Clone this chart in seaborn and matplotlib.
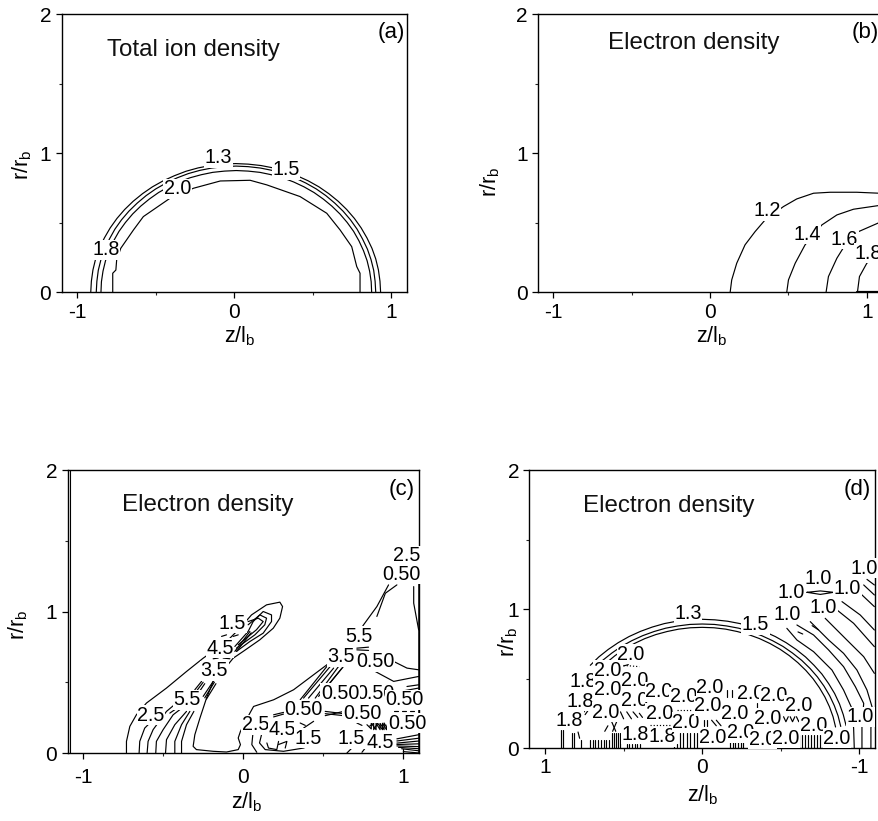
import matplotlib
matplotlib.use("Agg")
import matplotlib.pyplot as plt
import seaborn as sns
from matplotlib.ticker import MultipleLocator

# ---- panel (a), total ion density: z, r
a_13 = [(-.915,0),(-.911,.080),(-.901,.161),(-.884,.240),(-.860,.316),(-.828,.391),(-.791,.463),(-.748,.531),(-.699,.595),(-.645,.654),(-.585,.709),(-.522,.758),
        (-.454,.801),(-.382,.838),(-.308,.870),(-.231,.894),(-.153,.911),(-.072,.921),(.008,.925),(.088,.921),(.169,.911),(.247,.894),(.324,.870),(.398,.838),
        (.470,.801),(.538,.758),(.601,.709),(.661,.654),(.715,.595),(.764,.531),(.807,.463),(.844,.391),(.876,.316),(.900,.240),(.917,.161),(.927,.080),(.931,0)]
a_15 = [(-.880,0),(-.876,.079),(-.867,.158),(-.850,.235),(-.827,.310),(-.796,.383),(-.761,.454),(-.719,.521),(-.672,.583),(-.619,.641),(-.562,.695),(-.501,.743),
        (-.435,.785),(-.366,.822),(-.294,.853),(-.221,.876),(-.145,.893),(-.067,.903),(.010,.907),(.087,.903),(.165,.893),(.241,.876),(.314,.853),(.386,.822),
        (.455,.785),(.521,.743),(.582,.695),(.639,.641),(.692,.583),(.739,.521),(.781,.454),(.816,.383),(.847,.310),(.870,.235),(.887,.158),(.896,.079),(.900,0)]
a_18 = [(-.850,0),(-.847,.076),(-.837,.152),(-.821,.227),(-.798,.299),(-.769,.370),(-.735,.438),(-.694,.502),(-.648,.563),(-.597,.619),(-.542,.670),(-.483,.717),
        (-.419,.758),(-.353,.793),(-.283,.823),(-.211,.845),(-.138,.862),(-.063,.871),(.012,.875),(.087,.871),(.162,.862),(.235,.845),(.307,.823),(.377,.793),
        (.443,.758),(.507,.717),(.566,.670),(.621,.619),(.672,.563),(.718,.502),(.759,.438),(.793,.370),(.822,.299),(.845,.227),(.861,.152),(.871,.076),(.874,0)]
a_20 = [(-.775,0),(-.775,.137),(-.755,.160),(-.750,.232),(-.724,.316),(-.643,.448),(-.58,.544),(-.41,.676),(-.26,.748),(-.09,.80),
        (.10,.805),(.206,.772),(.418,.688),(.588,.568),(.673,.448),(.747,.328),(.779,.185),(.80,.137),(.80,0)]
a_labels = ["1.3", "1.5", "2.0", "1.8"]
a_label_z = [-.10, .329, -.361, -.817]
a_label_r = [.968, .879, .743, .304]

# ---- panel (b)
b_12 = [(.128,0),(.138,.089),(.17,.209),(.223,.341),(.287,.436),(.351,.52),(.468,.616),(.553,.671),(.66,.712),(.766,.719),(.936,.719),(1.079,.712),(1.12,.71)]
b_14 = [(.489,0),(.50,.089),(.543,.209),(.606,.341),(.713,.484),(.809,.556),(.915,.597),(1.079,.624),(1.12,.628)]
b_16 = [(.74,0),(.755,.113),(.809,.245),(.862,.341),(.947,.436),(1.079,.501),(1.12,.515)]
b_18 = [(.94,0),(.953,.113),(1.0,.209),(1.08,.28),(1.12,.30)]
b_axis_run = [(.94,0),(1.12,0)]
b_labels = ["1.2", "1.4", "1.6", "1.8"]
b_label_z = [.362, .617, .857, 1.01]
b_label_r = [.587, .417, .381, .28]

# ---- panel (c)
c_outer = [(-.729,0),(-.729,.082),(-.708,.188),(-.667,.27),(-.604,.353),(-.479,.459),(-.354,.576),(-.25,.67),(-.104,.788),(-.02,.882),(.052,.976),
           (.146,1.047),(.229,1.066),(.246,1.035),(.229,.953),(.188,.882),(.104,.80),(0,.718),(-.0625,.67),(-.146,.553),(-.1875,.506),(-.229,.388),
           (-.27,.247),(-.302,.129),(-.3125,.047),(-.292,.024),(-.1875,.012),(-.104,.007),(-.031,.024),(-.017,.059),(-.031,.106),(-.017,.153),
           (.042,.282),(.065,.329),(.19,.376),(.315,.447),(.481,.588),(.648,.729),(.752,.906),(.835,1.035),(.908,1.188)]
c_left_bundle = [
    [(-.65,0),(-.646,.082),(-.615,.176),(-.552,.247)],
    [(-.6,0),(-.594,.082),(-.5625,.165),(-.479,.294),(-.417,.353)],
    [(-.546,0),(-.542,.082),(-.5,.165),(-.4375,.27),(-.396,.306)],
    [(-.485,0),(-.479,.094),(-.427,.2),(-.354,.294)],
    [(-.427,0),(-.427,.082),(-.385,.2),(-.333,.294)],
    [(-.385,0),(-.385,.082),(-.354,.2),(-.308,.294)],
]
c_tip = [
    [(-.052,.753),(.031,.859),(.0625,.929),(.125,1.0),(.177,.976),(.177,.929),(.125,.847),(.042,.788),(-.042,.718)],
    [(.031,.906),(.104,.976),(.146,.953),(.135,.906),(.073,.835),(-.042,.741)],
    [(.031,.929),(.094,.953),(.125,.929),(.083,.871),(-.031,.765)],
    [(-.052,.718),(.042,.859)],
    [(-.04,.72),(.05,.85)],
]
c_short = [
    [(-.135,.824),(-.104,.835)], [(-.0625,.824),(-.031,.835)], [(-.1875,.666),(-.156,.671)], [(-.125,.671),(-.083,.666)],
    [(-.302,.447),(-.26,.506)], [(-.29,.44),(-.25,.5)], [(-.27,.44),(-.24,.49)],
    [(-.25,.4),(-.1875,.506)], [(-.24,.39),(-.18,.5)], [(-.23,.38),(-.17,.49)], [(-.458,.282),(-.427,.306)],
    [(.356,.376),(.523,.612)], [(.377,.388),(.544,.612)], [(.408,.388),(.565,.6)], [(.45,.388),(.596,.612)], [(.471,.4),(.627,.612)], [(.492,.424),(.617,.6)],
    [(.71,.741),(.783,.748)], [(.71,.729),(.783,.725)],
    [(.94,.647),(1.023,.6),(1.096,.588)], [(.825,.576),(.94,.506),(1.096,.541)], [(1.023,.47),(1.096,.482)], [(.981,.435),(1.096,.459)],
    [(.5125,.294),(.627,.278)], [(.5125,.278),(.627,.264)], [(.5125,.264),(.627,.294)],
    [(.356,.212),(.388,.195)], [(.44,.224),(.377,.176)], [(.71,.212),(.742,.195)],
    [(.648,0),(.679,.035)], [(.742,.005),(.7625,.035)], [(.19,.27),(.252,.287)], [(.19,.255),(.252,.275)],
    [(.835,.965),(.888,1.129),(.96,1.188)], [(1.096,.87),(1.065,1.059),(1.065,1.176)],
    [(.06,.129),(.054,.059),(.085,.005)], [(.117,.141),(.102,.071),(.1375,.024),(.252,.012),(.377,.035),(.429,.059)],
    [(.148,.071),(.158,.035),(.21,.024),(.221,.082)], [(.221,.06),(.273,.082),(.2625,.035)],
    [(.94,.294),(.97,.294)], [(.99,.294),(1.02,.294)], [(1.04,.294),(1.07,.294)],
]
c_zigzag = [(.773,.2),(.80,.17),(.80,.21),(.83,.165),(.83,.21),(.855,.165),(.855,.21),(.88,.165),(.88,.212),(.905,.165),(.905,.21)]
c_zigzag2 = [(.79,.19),(.815,.21),(.815,.165),(.84,.21),(.87,.165),(.87,.21),(.895,.165),(.9,.2)]
c_wedge = [
    [(.96,.10),(1.1,.13)], [(.96,.085),(1.1,.105)], [(.96,.07),(1.1,.085)], [(.96,.06),(1.1,.065)], [(.96,.05),(1.1,.045)],
    [(.97,.04),(1.1,.03)], [(.99,.03),(1.1,.015)], [(1.0,.01),(1.1,.0)], [(1.0,.0),(1.0,.03)],
]
c_right_edge = [(1.098,0),(1.098,.13),(1.098,.6),(1.098,1.21)]
c_labels = ["1.5","4.5","3.5","5.5","2.5","2.5","4.5","1.5","0.50","0.50","0.50","0.50","0.50","0.50","0.50","3.5","5.5","1.5","4.5","0.50","2.5"]
c_label_z = [-.067,-.144,-.181,-.352,-.575,.075,.242,.408,.377,.825,.825,.606,.742,1.008,1.023,.6125,.725,.675,.856,.9875,1.023]
c_label_r = [.918,.741,.581,.376,.266,.2,.165,.106,.306,.647,.424,.424,.282,.376,.212,.682,.824,.101,.075,1.264,1.394]

# ---- panel (d), z axis runs from +1 on the left to -1 on the right
d_arc_o = [(.712,.595),(.658,.655),(.598,.709),(.534,.758),(.465,.802),(.393,.839),(.318,.870),(.241,.895),(.162,.912),(.081,.922),(0,.926),(-.081,.922),(-.162,.912),
           (-.241,.895),(-.318,.870),(-.393,.839),(-.465,.802),(-.534,.758),(-.598,.709),(-.658,.655),(-.712,.595),(-.762,.532),(-.805,.463),(-.843,.392),(-.874,.317),(-.898,.240),(-.916,.161)]
d_arc_m = [(.686,.573),(.633,.631),(.575,.683),(.514,.731),(.448,.772),(.379,.808),(.306,.838),(.232,.862),(.156,.878),(.078,.889),(0,.892),(-.078,.889),(-.156,.878),
           (-.232,.862),(-.306,.838),(-.379,.808),(-.448,.772),(-.514,.731),(-.575,.683),(-.633,.631),(-.686,.573),(-.733,.512),(-.775,.446),(-.811,.377),(-.841,.305),(-.865,.231),(-.882,.155)]
d_arc_i = [(.66,.558),(.609,.614),(.554,.665),(.495,.711),(.431,.752),(.365,.787),(.295,.816),(.223,.838),(.150,.855),(.075,.865),(0,.868),(-.075,.865),(-.150,.855),
           (-.223,.838),(-.295,.816),(-.365,.787),(-.431,.752),(-.495,.711),(-.554,.665),(-.609,.614),(-.660,.558),(-.706,.498),(-.746,.434),(-.781,.367),(-.810,.297),(-.833,.225),(-.849,.151)]
d_fan = [
    [(-.539,.861),(-.603,.777),(-.709,.693),(-.826,.561),(-.9,.417),(-.953,.285),(-.964,.141),(-.968,0)],
    [(-.603,.885),(-.709,.813),(-.805,.705),(-.9,.585),(-.975,.441),(-1.028,.321),(-1.017,.153),(-1.017,0)],
    [(-.688,.909),(-.805,.777),(-.9,.681),(-.985,.561),(-1.049,.417),(-1.081,.297),(-1.074,.141),(-1.074,0)],
    [(-.783,.933),(-.921,.777),(-1.028,.657),(-1.096,.537)],
    [(-.858,.993),(-.964,.897),(-1.096,.729)],
    [(-.890,1.053),(-1.006,.957),(-1.096,.849)],
    [(-1.006,1.113),(-1.096,1.017)],
    [(-1.028,1.173),(-1.096,1.101)],
    [(-1.049,1.213),(-1.096,1.173)],
]
d_lens = [(-.667,1.12),(-.752,1.13),(-.837,1.12),(-.752,1.105),(-.667,1.12)]
d_stub_z = [.9,.883,.83,.815,.773,.713,.697,.679,.662,.645,.628,.611,.594,.575,.56,.548,.533,.523,
            .48,.463,.446,.429,.412,.395,.178,.161,.14,.119,.098,.077,.055,.034,
            -.178,-.195,-.212,-.23,-.246,-.263,-.614,-.633,-.652,-.671,-.69,-.709,-.728,-.747]
d_stub_top = [.13,.13,.105,.105,.06,.06,.06,.06,.06,.06,.06,.06,.06,.105,.105,.105,.105,.105,
              .03,.03,.03,.03,.03,.03,.03,.03,.105,.105,.105,.105,.105,.105,
              .058,.058,.058,.058,.058,.058,.094,.094,.094,.094,.094,.094,.094,.094]
d_short = [
    [(-.157,.417),(-.157,.369)], [(-.193,.417),(-.193,.369)], [(-.352,.321),(-.352,.273)],
    [(-.518,.225),(-.533,.189),(-.548,.225)], [(-.56,.225),(-.575,.189),(-.59,.225)], [(-.6,.225),(-.615,.189),(-.63,.225)],
    [(-.01,.2),(-.01,.16)], [(-.03,.2),(-.03,.16)], [(-.06,.2),(-.09,.16)], [(-.09,.2),(-.12,.16)],
    [(.52,.26),(.5,.21)], [(.48,.26),(.45,.21)], [(.44,.26),(.41,.22)], [(.40,.25),(.38,.22)],
    [(.765,.24),(.74,.28)], [(.745,.24),(.72,.28)], [(.58,.2),(.55,.12)], [(.54,.2),(.57,.12)],
    [(.79,.115),(.78,.07)], [(.62,.12),(.60,.16)],
    [(.5,.59),(.47,.60)], [(-.70,.88),(-.74,.85)], [(-.61,.835),(-.64,.82)],
]
d_dotted = [
    [(.67,.37),(.54,.37)], [(.33,.165),(.2,.165)], [(.16,.273),(.07,.273)], [(.52,.595),(.45,.59),(.40,.585)], [(.29,.37),(.22,.37)],
]
d_labels = ["1.3","1.5","1.0","1.0","1.0","1.0","1.0","1.0","1.0","2.0","1.8","1.8","1.8","1.8","1.8",
            "2.0","2.0","2.0","2.0","2.0","2.0","2.0","2.0","2.0","2.0","2.0","2.0","2.0","2.0","2.0","2.0","2.0","2.0","2.0","2.0","2.0","2.0"]
d_label_z = [.091,-.338,-1.032,-.737,-.926,-.565,-.773,-.539,-1.006,.452,.756,.777,.845,.427,.257,
             .603,.603,.427,.427,.611,.274,.119,.272,.102,-.051,-.036,-.068,-.306,-.21,-.454,-.416,-.614,-.709,-.242,-.384,-.529,-.858]
d_label_r = [.969,.885,1.293,1.221,1.149,1.12,1.012,.964,.225,.676,.477,.338,.201,.098,.082,
             .561,.424,.484,.341,.257,.405,.369,.249,.185,.436,.305,.077,.393,.249,.376,.213,.309,.165,.11,.062,.07,.07]

panel_names = ["(a)", "(b)", "(c)", "(d)"]
panel_titles = ["Total ion density", "Electron density", "Electron density", "Electron density"]

WIDTH, HEIGHT = 879, 821

sns.set_theme(style="ticks")
plt.rcParams["font.family"] = ["Liberation Sans", "DejaVu Sans"]
plt.rcParams["mathtext.fontset"] = "custom"
plt.rcParams["mathtext.rm"] = "Liberation Sans"
plt.rcParams["mathtext.default"] = "rm"
plt.rcParams["axes.linewidth"] = 1.0
plt.rcParams["axes.unicode_minus"] = False
plt.rcParams["text.color"] = "black"


def trace(ax, pts, lw=0.85, ls="-"):
    zs = [p[0] for p in pts]
    rs = [p[1] for p in pts]
    sns.lineplot(x=zs, y=rs, sort=False, estimator=None, color="black",
                 linewidth=lw, linestyle=ls, legend=False, ax=ax)


def put_labels(ax, labels, zs, rs):
    for txt, z, r in zip(labels, zs, rs):
        ax.text(z, r, txt, fontsize=14.2, ha="center", va="center", zorder=5, clip_on=False,
                bbox=dict(fc="white", ec="none", pad=0.4))


def make_panel(box, xlim, ylabel_x, ylabel_y, xlabel_x, xlabel_y):
    left, right, top, bottom = box
    ax = fig.add_axes([left / WIDTH, 1 - bottom / HEIGHT, (right - left) / WIDTH, (bottom - top) / HEIGHT])
    ax.set_xlim(*xlim)
    ax.set_ylim(0, 2)
    ax.xaxis.set_major_locator(MultipleLocator(1))
    ax.xaxis.set_minor_locator(MultipleLocator(0.5))
    ax.yaxis.set_major_locator(MultipleLocator(1))
    ax.yaxis.set_minor_locator(MultipleLocator(0.5))
    ax.tick_params(which="major", length=4.5, width=0.9, labelsize=15, pad=3, colors="black")
    ax.tick_params(which="minor", length=2.2, width=0.8)
    ax.set_xlabel(r"z/l$_{\mathrm{b}}$", fontsize=15.5, color="black")
    ax.set_ylabel(r"r/r$_{\mathrm{b}}$", fontsize=15.5, color="black")
    ax.xaxis.set_label_coords(xlabel_x / WIDTH, 1 - xlabel_y / HEIGHT, transform=fig.transFigure)
    ax.yaxis.set_label_coords(ylabel_x / WIDTH, 1 - ylabel_y / HEIGHT, transform=fig.transFigure)
    for side in ax.spines:
        ax.spines[side].set_visible(True)
        ax.spines[side].set_color("black")
    return ax


def finish(ax, idx, name_z, name_r, title_z, title_r):
    ax.text(name_z, name_r, panel_names[idx], fontsize=16, ha="center", va="center", zorder=6)
    ax.text(title_z, title_r, panel_titles[idx], fontsize=17.4, ha="left", va="center", color="#111111", zorder=6)


fig = plt.figure(figsize=(WIDTH / 100, HEIGHT / 100), dpi=100)

# (a)
ax_a = make_panel((61.7, 407.3, 14, 292.3), (-1.1, 1.101), 34, 165, 240, 324)
for curve in [a_13, a_15, a_18, a_20]:
    trace(ax_a, curve)
put_labels(ax_a, a_labels, a_label_z, a_label_r)
finish(ax_a, 0, .996, 1.868, -.809, 1.74)
ax_a.set_xlim(-1.1, 1.101)
ax_a.set_ylim(0, 2)

# (b) runs past the right edge of the figure
ax_b = make_panel((538.3, 882.5, 14, 292.3), (-1.096, 1.1), 502, 182, 712, 324)
for curve in [b_12, b_14, b_16, b_18]:
    trace(ax_b, curve)
trace(ax_b, b_axis_run, lw=1.6)
put_labels(ax_b, b_labels, b_label_z, b_label_r)
finish(ax_b, 1, .989, 1.868, -.653, 1.789)
ax_b.set_xlim(-1.096, 1.1)
ax_b.set_ylim(0, 2)

# (c)
ax_c = make_panel((67.7, 419.3, 470, 753), (-1.096, 1.1), 30, 625, 247, 790)
ax_c.tick_params(axis="x", which="major", pad=6)
trace(ax_c, c_outer)
for curve in c_left_bundle + c_tip + c_short + c_wedge:
    trace(ax_c, curve)
trace(ax_c, c_zigzag)
trace(ax_c, c_zigzag2)
trace(ax_c, c_right_edge, lw=1.8)
ax_c.axvline(-1.084, color="black", lw=0.8)
put_labels(ax_c, c_labels, c_label_z, c_label_r)
finish(ax_c, 2, .992, 1.859, -.758, 1.753)
ax_c.set_xlim(-1.096, 1.1)
ax_c.set_ylim(0, 2)

# (d)
ax_d = make_panel((529.5, 875, 470, 748), (1.099, -1.1), 520, 642, 703, 783)
for curve in [d_arc_o, d_arc_m, d_arc_i] + d_fan + d_short:
    trace(ax_d, curve)
trace(ax_d, d_lens)
for curve in d_dotted:
    trace(ax_d, curve, ls=":")
for z, top in zip(d_stub_z, d_stub_top):
    trace(ax_d, [(z, 0), (z, top)])
put_labels(ax_d, d_labels, d_label_z, d_label_r)
finish(ax_d, 3, -.985, 1.86, .757, 1.74)
ax_d.set_xlim(1.099, -1.1)
ax_d.set_ylim(0, 2)

fig.savefig("out.png", dpi=100, facecolor="white")
